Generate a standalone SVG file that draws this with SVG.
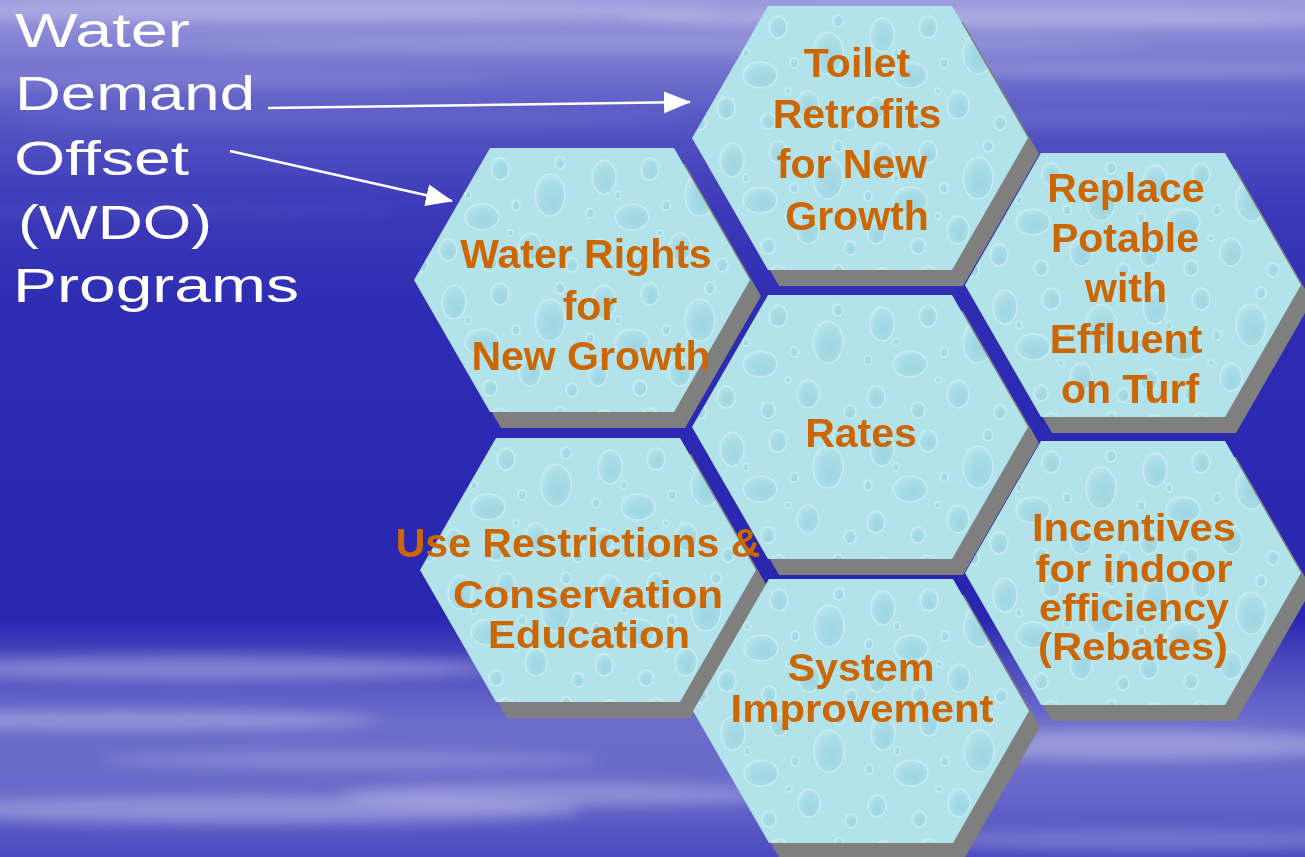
<svg xmlns="http://www.w3.org/2000/svg" width="1305" height="857" viewBox="0 0 1305 857">
<defs>
<style>
.wt{font-family:"Liberation Sans",Arial,sans-serif;font-size:49px;fill:#ffffff}
.ot{font-family:"Liberation Sans",Arial,sans-serif;font-size:41px;font-weight:bold;fill:#cc6600;text-anchor:middle}
.tight{font-size:39px}
.shadow{fill:#7f7f7f}
.face{fill:url(#drops)}
.arrow{stroke:#ffffff;stroke-width:2.6;fill:none;marker-end:url(#ah)}
</style>
<linearGradient id="bg" x1="0" y1="0" x2="0" y2="1">
<stop offset="0" stop-color="#9a9adc"/>
<stop offset="0.06" stop-color="#7e7ed2"/>
<stop offset="0.14" stop-color="#5656c4"/>
<stop offset="0.24" stop-color="#3c3ab8"/>
<stop offset="0.36" stop-color="#2e2cb3"/>
<stop offset="0.72" stop-color="#2826b0"/>
<stop offset="0.77" stop-color="#4a48be"/>
<stop offset="0.84" stop-color="#6c6ccb"/>
<stop offset="0.92" stop-color="#6a6aca"/>
<stop offset="1" stop-color="#4a4ac0"/>
</linearGradient>
<radialGradient id="drop" cx="0.6" cy="0.65" r="0.75">
<stop offset="0" stop-color="#8ccbd9"/>
<stop offset="0.6" stop-color="#a2d8e3"/>
<stop offset="1" stop-color="#d4f1f5"/>
</radialGradient>
<pattern id="drops" patternUnits="userSpaceOnUse" width="150" height="125">
<rect width="150" height="125" fill="#b2e3eb"/>
<g fill="url(#drop)" stroke="#d9f3f7" stroke-width="1.5" opacity="0.55">
<ellipse cx="22" cy="22" rx="12" ry="17"/>
<ellipse cx="68" cy="14" rx="9" ry="11"/>
<ellipse cx="118" cy="40" rx="15" ry="21"/>
<ellipse cx="50" cy="62" rx="17" ry="13"/>
<ellipse cx="98" cy="92" rx="11" ry="14"/>
<ellipse cx="16" cy="95" rx="9" ry="11"/>
<ellipse cx="58" cy="108" rx="7" ry="8"/>
<ellipse cx="140" cy="110" rx="6" ry="7"/>
<ellipse cx="84" cy="50" rx="4" ry="5"/>
<ellipse cx="36" cy="40" rx="3" ry="4"/>
<ellipse cx="128" cy="8" rx="5" ry="6"/>
<ellipse cx="78" cy="78" rx="3" ry="3"/>
<ellipse cx="8" cy="58" rx="4" ry="5"/>
</g>
</pattern>
<polygon id="hex" points="-168,0 -92,-132 92,-132 168,0 92,132 -92,132"/>
<marker id="ah" markerUnits="userSpaceOnUse" markerWidth="28" markerHeight="24" refX="26" refY="12" orient="auto">
<path d="M0,1 L27,12 L0,23 z" fill="#ffffff"/>
</marker>
<filter id="blur" x="-20%" y="-50%" width="140%" height="200%">
<feGaussianBlur stdDeviation="7"/>
</filter>
</defs>

<rect width="1305" height="857" fill="url(#bg)"/>
<g filter="url(#blur)" fill="#ffffff">
<ellipse cx="300" cy="12" rx="420" ry="9" opacity="0.25"/>
<ellipse cx="1000" cy="18" rx="380" ry="8" opacity="0.3"/>
<ellipse cx="650" cy="45" rx="500" ry="6" opacity="0.2"/>
<ellipse cx="1150" cy="70" rx="260" ry="6" opacity="0.22"/>
<ellipse cx="200" cy="80" rx="300" ry="5" opacity="0.15"/>
<ellipse cx="350" cy="120" rx="350" ry="5" opacity="0.12"/>
<ellipse cx="1100" cy="120" rx="250" ry="5" opacity="0.15"/>
<ellipse cx="150" cy="210" rx="250" ry="4" opacity="0.1"/>
<ellipse cx="200" cy="668" rx="300" ry="12" opacity="0.3"/>
<ellipse cx="120" cy="720" rx="260" ry="10" opacity="0.28"/>
<ellipse cx="250" cy="810" rx="330" ry="14" opacity="0.3"/>
<ellipse cx="560" cy="795" rx="220" ry="12" opacity="0.25"/>
<ellipse cx="1130" cy="745" rx="220" ry="16" opacity="0.3"/>
<ellipse cx="1150" cy="840" rx="250" ry="10" opacity="0.22"/>
<ellipse cx="350" cy="760" rx="250" ry="8" opacity="0.2"/>
</g>

<g id="title">
<text class="wt" x="15" y="47" textLength="175" lengthAdjust="spacingAndGlyphs">Water</text>
<text class="wt" x="15" y="110" textLength="240" lengthAdjust="spacingAndGlyphs">Demand</text>
<text class="wt" x="14" y="175" textLength="175" lengthAdjust="spacingAndGlyphs">Offset</text>
<text class="wt" x="18" y="239" textLength="194" lengthAdjust="spacingAndGlyphs">(WDO)</text>
<text class="wt" x="13" y="302" textLength="286" lengthAdjust="spacingAndGlyphs">Programs</text>
</g>

<g id="toilet">
<use href="#hex" class="shadow" transform="translate(871,154)"/>
<use href="#hex" class="face" transform="translate(860,138)"/>
<text class="ot" x="857" y="77">Toilet</text>
<text class="ot" x="857" y="128">Retrofits</text>
<text class="ot" x="852" y="178">for New</text>
<text class="ot" x="857" y="230">Growth</text>
</g>

<g id="water-rights">
<use href="#hex" class="shadow" transform="translate(593,296)"/>
<use href="#hex" class="face" transform="translate(582,280)"/>
<text class="ot" x="586" y="268">Water Rights</text>
<text class="ot" x="590" y="320">for</text>
<text class="ot" x="591" y="370">New Growth</text>
</g>

<g id="replace">
<use href="#hex" class="shadow" transform="translate(1144,301)"/>
<use href="#hex" class="face" transform="translate(1133,285)"/>
<text class="ot" x="1126" y="202">Replace</text>
<text class="ot" x="1125" y="252">Potable</text>
<text class="ot" x="1126" y="302">with</text>
<text class="ot" x="1126" y="353">Effluent</text>
<text class="ot" x="1130" y="403">on Turf</text>
</g>

<g id="use-restrictions">
<use href="#hex" class="shadow" transform="translate(599,586)"/>
<use href="#hex" class="face" transform="translate(588,570)"/>
<text class="ot" x="578" y="557">Use Restrictions &amp;</text>
<text class="ot tight" x="588" y="608" textLength="270" lengthAdjust="spacingAndGlyphs">Conservation</text>
<text class="ot tight" x="589" y="648" textLength="202" lengthAdjust="spacingAndGlyphs">Education</text>
</g>

<g id="incentives">
<use href="#hex" class="shadow" transform="translate(1144,589)"/>
<use href="#hex" class="face" transform="translate(1133,573)"/>
<text class="ot tight" x="1134" y="541" textLength="204" lengthAdjust="spacingAndGlyphs">Incentives</text>
<text class="ot tight" x="1134" y="582" textLength="197" lengthAdjust="spacingAndGlyphs">for indoor</text>
<text class="ot tight" x="1134" y="621" textLength="190" lengthAdjust="spacingAndGlyphs">efficiency</text>
<text class="ot tight" x="1133" y="660" textLength="190" lengthAdjust="spacingAndGlyphs">(Rebates)</text>
</g>

<g id="rates">
<use href="#hex" class="shadow" transform="translate(871,443)"/>
<use href="#hex" class="face" transform="translate(860,427)"/>
<text class="ot" x="861" y="447">Rates</text>
</g>

<g id="system">
<use href="#hex" class="shadow" transform="translate(872,727)"/>
<use href="#hex" class="face" transform="translate(861,711)"/>
<text class="ot tight" x="861" y="681" textLength="147" lengthAdjust="spacingAndGlyphs">System</text>
<text class="ot tight" x="862" y="722" textLength="263" lengthAdjust="spacingAndGlyphs">Improvement</text>
</g>

<g id="connectors">
<line class="arrow" x1="268" y1="108" x2="690" y2="102"/>
<line class="arrow" x1="230" y1="151" x2="452" y2="201"/>
</g>
</svg>
